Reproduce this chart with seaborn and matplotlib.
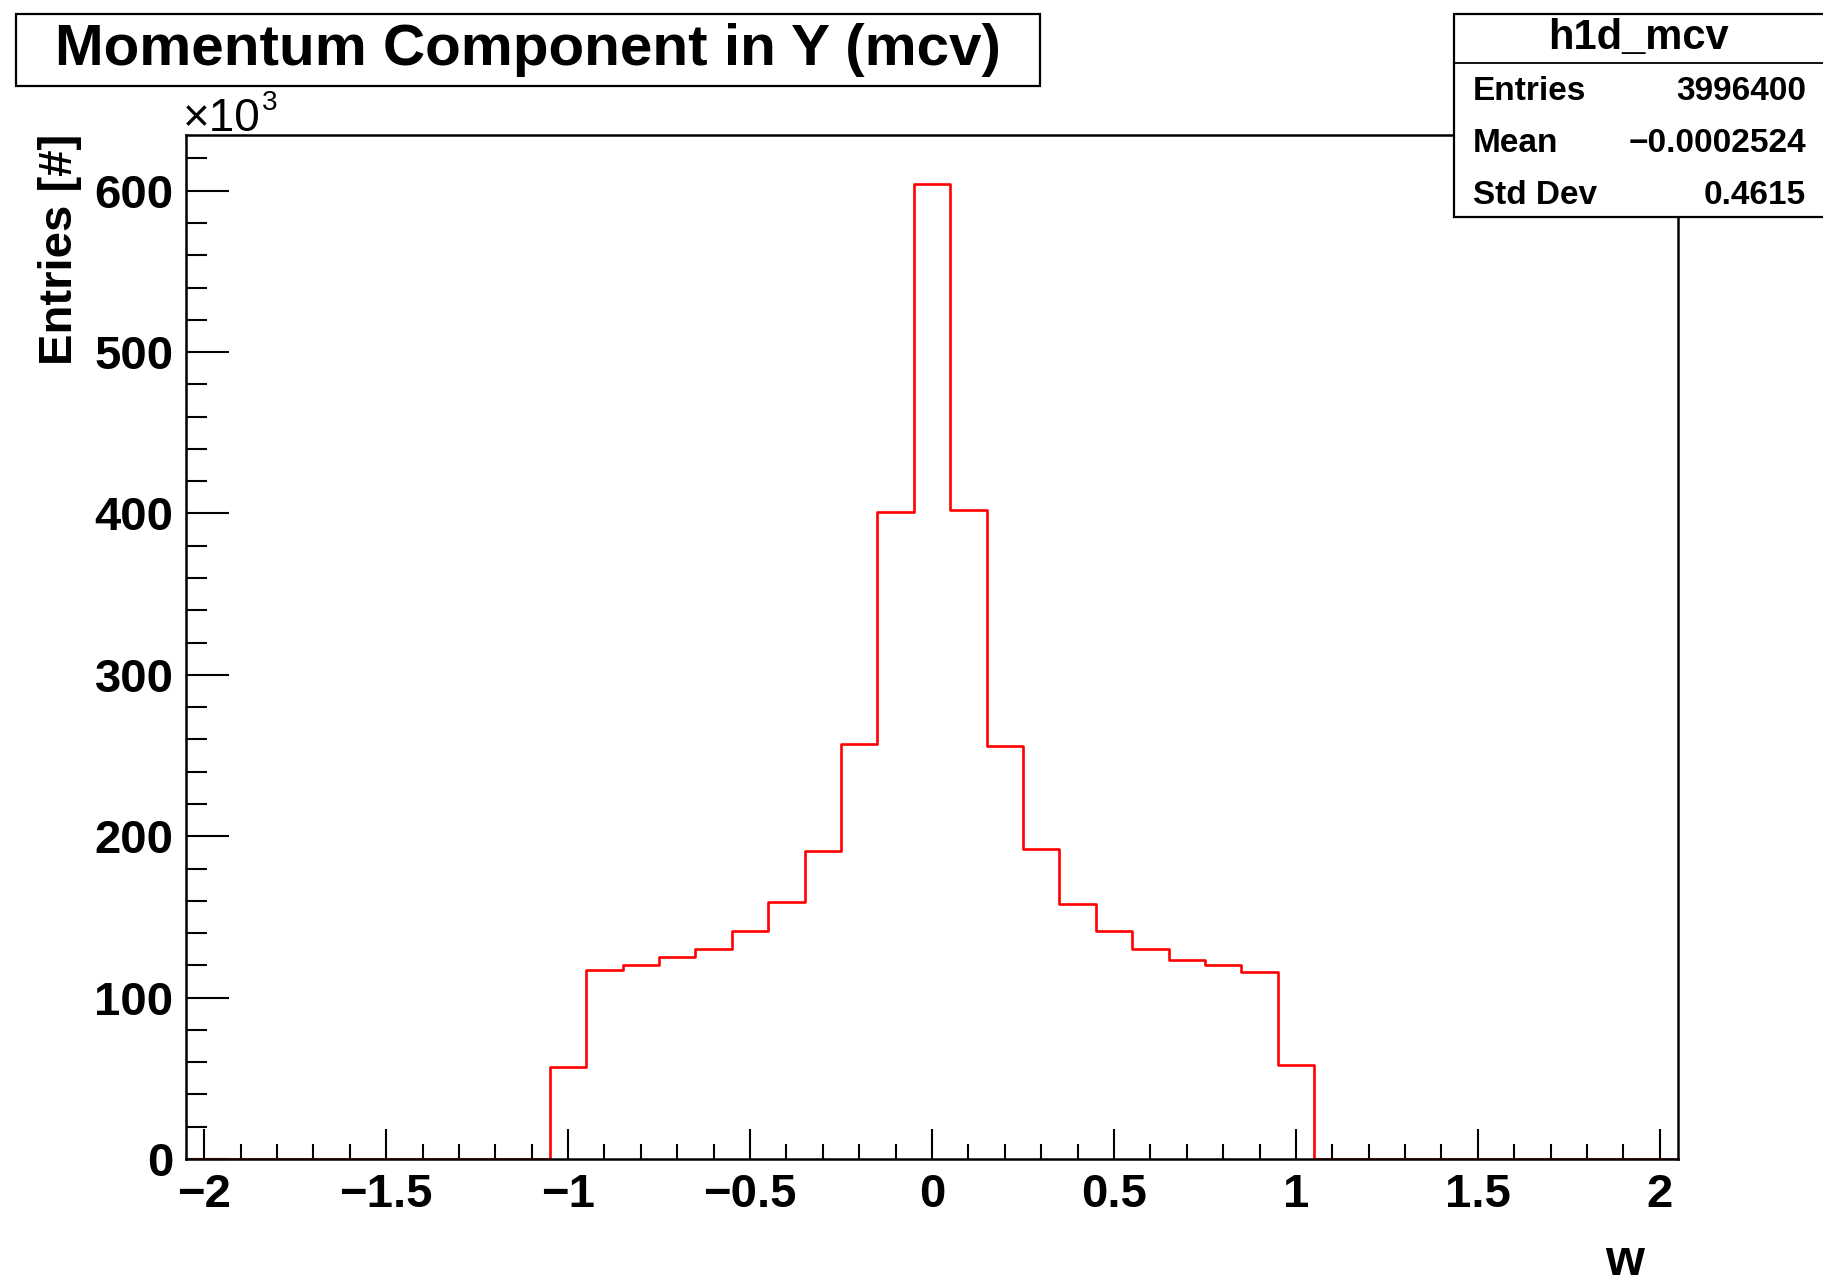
import numpy as np
import pandas as pd
import matplotlib
matplotlib.use("Agg")
import matplotlib.pyplot as plt
from matplotlib.patches import Rectangle
from matplotlib.lines import Line2D
from matplotlib.ticker import FixedLocator, MultipleLocator
import seaborn as sns

# ---------------- data ----------------
bin_centers = [-1.0, -0.9, -0.8, -0.7, -0.6, -0.5, -0.4, -0.3, -0.2, -0.1, 0.0,
               0.1, 0.2, 0.3, 0.4, 0.5, 0.6, 0.7, 0.8, 0.9, 1.0]
entries_k = [57, 117, 120, 125, 130, 141, 159, 191, 257, 401, 604,
             402, 256, 192, 158, 141, 130, 123, 120, 116, 58]
bin_width = 0.1
x_range = (-2.05, 2.05)
y_max = 634.5

x_ticks = [-2, -1.5, -1, -0.5, 0, 0.5, 1, 1.5, 2]
x_tick_labels = ["\u22122", "\u22121.5", "\u22121", "\u22120.5", "0", "0.5", "1", "1.5", "2"]
y_ticks = [0, 100, 200, 300, 400, 500, 600]
y_tick_labels = ["0", "100", "200", "300", "400", "500", "600"]

title_text = "Momentum Component in Y (mcv)"
x_label = "w"
y_label = "Entries [#]"
stats_name = "h1d_mcv"
stats_labels = ["Entries", "Mean", "Std Dev"]
stats_values = ["3996400", "\u22120.0002524", "0.4615"]

# ---------------- style ----------------
sns.set_theme(style="white")
plt.rcParams['font.family'] = ['Liberation Sans', 'DejaVu Sans']
plt.rcParams['font.weight'] = 'bold'
plt.rcParams['axes.unicode_minus'] = True

W, H = 1823, 1286
fig = plt.figure(figsize=(W / 100, H / 100), dpi=100)
fig.patch.set_facecolor("white")

ax_l, ax_r, ax_t, ax_b = 186, 1678, 135, 1159
ax = fig.add_axes([ax_l / W, 1 - ax_b / H, (ax_r - ax_l) / W, (ax_b - ax_t) / H])
ax.set_facecolor("white")

df = pd.DataFrame({"w": bin_centers, "entries": entries_k})
sns.histplot(data=df, x="w", weights="entries", binwidth=bin_width, binrange=x_range,
             element="step", fill=False, color="#ff0000", linewidth=1.9, ax=ax)

ax.set_xlim(*x_range)
ax.set_ylim(0, y_max)
ax.set_xlabel("")
ax.set_ylabel("")

for sp in ax.spines.values():
    sp.set_visible(True)
    sp.set_color("black")
    sp.set_linewidth(1.8)

ax.xaxis.set_major_locator(FixedLocator(x_ticks))
ax.set_xticklabels(x_tick_labels)
ax.xaxis.set_minor_locator(MultipleLocator(0.1))
ax.yaxis.set_major_locator(FixedLocator(y_ticks))
ax.set_yticklabels(y_tick_labels)
ax.yaxis.set_minor_locator(MultipleLocator(20))

ax.tick_params(axis="x", which="major", direction="in", length=21.6, width=1.5,
               bottom=True, top=False, color="black", labelsize=34, pad=10,
               labelcolor="black")
ax.tick_params(axis="x", which="minor", direction="in", length=10.8, width=1.5,
               bottom=True, top=False, color="black")
ax.tick_params(axis="y", which="major", direction="in", length=31, width=1.5,
               left=True, right=False, color="black", labelsize=34, pad=9,
               labelcolor="black")
ax.tick_params(axis="y", which="minor", direction="in", length=15, width=1.5,
               left=True, right=False, color="black")
for lab in ax.get_xticklabels() + ax.get_yticklabels():
    lab.set_fontweight("bold")

# x10^3 multiplier
fig.text(183 / W, 1 - 131 / H, "\u00d710", fontsize=33, fontweight="normal",
         ha="left", va="baseline", color="black")
fig.text(262 / W, 1 - 110 / H, "3", fontsize=20, fontweight="normal",
         ha="left", va="baseline", color="black")

# axis labels
fig.text(60 / W, 1 - 134 / H, y_label, rotation=90, fontsize=34, fontweight="bold",
         ha="center", va="top", color="black")
fig.text(1625 / W, 1 - 1262 / H, x_label, fontsize=36, fontweight="bold",
         ha="center", va="center", color="black")

# title box
fig.patches.append(Rectangle((16 / W, 1 - 86 / H), (1040 - 16) / W, (86 - 14) / H,
                             transform=fig.transFigure, facecolor="white",
                             edgecolor="black", linewidth=1.6, zorder=5))
fig.text(528 / W, 1 - 50 / H, title_text, fontsize=42, fontweight="bold",
         ha="center", va="center", color="black", zorder=6)

# stats box
fig.patches.append(Rectangle((1454 / W, 1 - 217 / H), (1900 - 1454) / W, (217 - 14) / H,
                             transform=fig.transFigure, facecolor="white",
                             edgecolor="black", linewidth=1.6, zorder=5))
fig.lines.append(Line2D([1454 / W, 1.0], [1 - 63 / H, 1 - 63 / H],
                        transform=fig.transFigure, color="black", linewidth=1.3, zorder=6))
fig.text(1638 / W, 1 - 38 / H, stats_name, fontsize=30, fontweight="bold",
         ha="center", va="center", color="black", zorder=7)
row_y = [92, 144, 196]
for lab, val, yy in zip(stats_labels, stats_values, row_y):
    fig.text(1473 / W, 1 - yy / H, lab, fontsize=24, fontweight="bold",
             ha="left", va="center", color="black", zorder=7)
    fig.text(1806 / W, 1 - yy / H, val, fontsize=24, fontweight="bold",
             ha="right", va="center", color="black", zorder=7)

fig.savefig("out.png", dpi=100, facecolor="white")
